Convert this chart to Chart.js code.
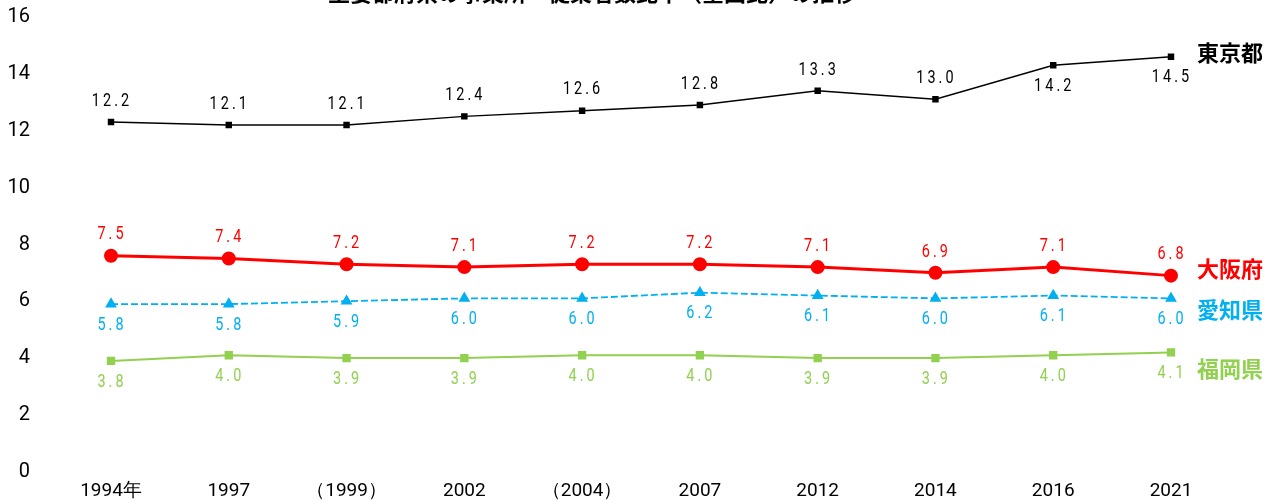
<!DOCTYPE html>
<html>
<head>
<meta charset="utf-8">
<script src="https://cdn.jsdelivr.net/npm/chart.js@4"></script>
<style>
  html, body { margin: 0; padding: 0; background: #fff; overflow: hidden; }
  canvas { display: block; }
</style>
</head>
<body>
<canvas id="chart" width="1279" height="502"></canvas>
<script>
// data
const years = ['1994年', '1997', '（1999）', '2002', '（2004）', '2007', '2012', '2014', '2016', '2021'];
const tokyo   = [12.2, 12.1, 12.1, 12.4, 12.6, 12.8, 13.3, 13.0, 14.2, 14.5];
const osaka   = [7.5, 7.4, 7.2, 7.1, 7.2, 7.2, 7.1, 6.9, 7.1, 6.8];
const aichi   = [5.8, 5.8, 5.9, 6.0, 6.0, 6.2, 6.1, 6.0, 6.1, 6.0];
const fukuoka = [3.8, 4.0, 3.9, 3.9, 4.0, 4.0, 3.9, 3.9, 4.0, 4.1];
const names = ['東京都', '大阪府', '愛知県', '福岡県'];
const titleText = '主要都府県の事業所・従業者数比率（全国比）の推移';

const numFont = 'Roboto, "DejaVu Sans", sans-serif';

// where each value label goes: -1 above the point, 1 below
const labelSide = [
  [-1, -1, -1, -1, -1, -1, -1, -1, 1, 1],
  [-1, -1, -1, -1, -1, -1, -1, -1, -1, -1],
  [1, 1, 1, 1, 1, 1, 1, 1, 1, 1],
  [1, 1, 1, 1, 1, 1, 1, 1, 1, 1]
];
const nameOffset = [-4, -7, 11, 16];

const labelsPlugin = {
  id: 'labels',
  afterDatasetsDraw(chart) {
    const ctx = chart.ctx;
    ctx.save();
    chart.data.datasets.forEach((ds, i) => {
      const meta = chart.getDatasetMeta(i);
      ctx.fillStyle = ds.borderColor;
      ctx.textBaseline = 'middle';
      ctx.textAlign = 'center';
      meta.data.forEach((pt, j) => {
        const side = labelSide[i][j];
        // narrow, tall digits like the original
        ctx.save();
        ctx.translate(pt.x + 1, pt.y + side * 21);
        ctx.scale(0.76, 1);
        ctx.font = '19px ' + numFont;
        ctx.letterSpacing = '4px';
        ctx.fillText(ds.data[j].toFixed(1), 0, 0);
        ctx.restore();
      });
      // series name at the right end
      const last = meta.data[meta.data.length - 1];
      ctx.font = 'bold 22px "Noto Sans CJK JP", sans-serif';
      ctx.textAlign = 'left';
      ctx.fillText(names[i], 1197, last.y + nameOffset[i]);
    });
    // title, cut off at the top like the source image
    ctx.fillStyle = '#000';
    ctx.font = 'bold 22px "Noto Sans CJK JP", sans-serif';
    ctx.textAlign = 'center';
    ctx.textBaseline = 'alphabetic';
    ctx.fillText(titleText, 592, 1);
    ctx.restore();
  }
};

const data = {
  labels: years,
  datasets: [{
    label: names[0],
    data: tokyo,
    borderColor: '#000000',
    backgroundColor: '#000000',
    borderWidth: 1.5,
    pointStyle: 'rect',
    pointRadius: 3.5,
    pointHoverRadius: 3.5
  }, {
    label: names[1],
    data: osaka,
    borderColor: '#ff0000',
    backgroundColor: '#ff0000',
    borderWidth: 3,
    pointStyle: 'circle',
    pointRadius: 5.5,
    pointHoverRadius: 5.5
  }, {
    label: names[2],
    data: aichi,
    borderColor: '#00b0f0',
    backgroundColor: '#00b0f0',
    borderWidth: 1.8,
    borderDash: [7, 3],
    pointStyle: 'triangle',
    pointRadius: 5,
    pointHoverRadius: 5
  }, {
    label: names[3],
    data: fukuoka,
    borderColor: '#92d050',
    backgroundColor: '#92d050',
    borderWidth: 2,
    pointStyle: 'rect',
    pointRadius: 4.5,
    pointHoverRadius: 4.5
  }]
};

const options = {
  responsive: false,
  maintainAspectRatio: false,
  animation: false,
  layout: {
    padding: { top: 14, right: 108, left: 0, bottom: 0 }
  },
  plugins: {
    legend: { display: false },
    tooltip: { enabled: false }
  },
  scales: {
    x: {
      grid: { display: false, drawTicks: false },
      border: { display: false },
      ticks: {
        color: '#000',
        font: { family: numFont, size: 19 },
        padding: 11,
        maxRotation: 0,
        autoSkip: false
      },
      afterFit: s => { s.height = 33; }
    },
    y: {
      min: 0,
      max: 16,
      grid: { display: false, drawTicks: false },
      border: { display: false },
      ticks: {
        stepSize: 2,
        color: '#000',
        font: { family: numFont, size: 20 },
        padding: 81,
        labelOffset: 3
      },
      afterFit: s => {
        s.width = 111;
        s.paddingTop = 0;
        s.paddingBottom = 0;
      }
    }
  }
};

const chart = new Chart(document.getElementById('chart'), {
  type: 'line',
  data: data,
  options: options,
  plugins: [labelsPlugin]
});
</script>
</body>
</html>
